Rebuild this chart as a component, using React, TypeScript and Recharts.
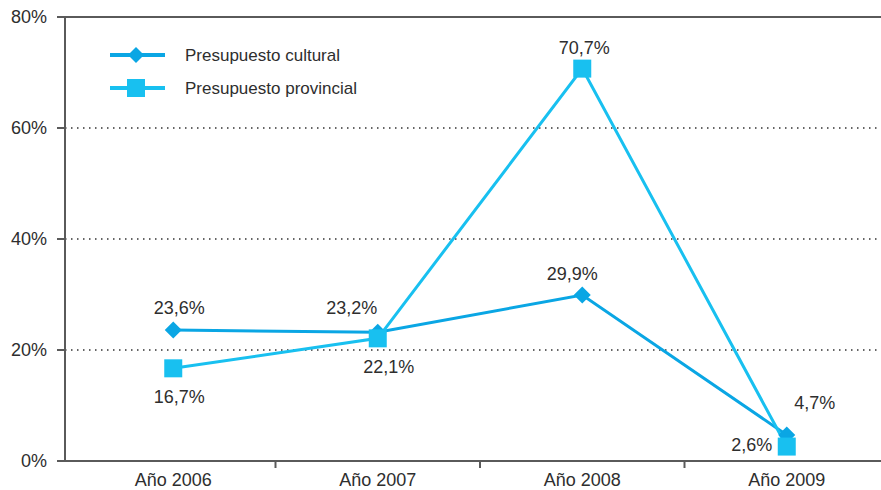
import React from 'react';
import { LineChart, Line, XAxis, YAxis, CartesianGrid, ReferenceLine, LabelList, Legend } from 'recharts';

const categories = ['Año 2006', 'Año 2007', 'Año 2008', 'Año 2009'];
const culturalValues = [23.6, 23.2, 29.9, 4.7];
const provincialValues = [16.7, 22.1, 70.7, 2.6];
const yTicks = [0, 20, 40, 60, 80];
const seriesNames = { cultural: 'Presupuesto cultural', provincial: 'Presupuesto provincial' };

const data = categories.map((c, i) => ({ name: c, cultural: culturalValues[i], provincial: provincialValues[i] }));

const COL_CULT = '#0aa6e4';
const COL_PROV = '#18c0f0';
const TEXT = '#2e2e2e';
const AXIS = '#5a5a5a';
const FONT = "'Liberation Sans', Arial, Helvetica, sans-serif";

// label placement (dx, dy of baseline relative to the point)
const labelOffsets: Record<string, [number, number][]> = {
  cultural: [[6, -16], [-26, -18], [-10, -15], [28, -26]],
  provincial: [[6, 35], [11, 35], [2, -15], [-35, 4]],
};

const fmt = (v: number) => v.toFixed(1).replace('.', ',') + '%';

const makeLabel = (key: string) => (props: any) => {
  const { x, y, value, index } = props;
  const [dx, dy] = labelOffsets[key][index] || [0, -10];
  return (
    <text x={x + dx} y={y + dy} textAnchor="middle" fontSize={18} fill={TEXT} fontFamily={FONT}>
      {fmt(value)}
    </text>
  );
};

const Diamond = (props: any) => {
  const { cx, cy } = props;
  if (cx == null || cy == null) return null;
  const r = 8.5;
  return <path d={`M${cx},${cy - r}L${cx + r},${cy}L${cx},${cy + r}L${cx - r},${cy}Z`} fill={COL_CULT} />;
};

const Square = (props: any) => {
  const { cx, cy } = props;
  if (cx == null || cy == null) return null;
  const s = 9;
  return <rect x={cx - s} y={cy - s} width={2 * s} height={2 * s} fill={COL_PROV} />;
};

const XTick = (props: any) => {
  const { x, y, payload, index } = props;
  const half = payload && typeof payload.offset === 'number' && payload.offset > 0 ? payload.offset : 102;
  return (
    <g>
      <text x={x} y={y + 25} textAnchor="middle" fontSize={18} fill={TEXT} fontFamily={FONT}>
        {payload.value}
      </text>
      {index < categories.length - 1 && (
        <line x1={x + half} x2={x + half} y1={y} y2={y + 7} stroke={AXIS} strokeWidth={2} />
      )}
    </g>
  );
};

const renderLegend = () => (
  <svg width={320} height={70} style={{ display: 'block' }}>
    <line x1={10} x2={65} y1={20} y2={20} stroke={COL_CULT} strokeWidth={4} />
    <path d="M36,12L44,20L36,28L28,20Z" fill={COL_CULT} />
    <text x={85} y={25.5} fontSize={17} fill={TEXT} fontFamily={FONT}>{seriesNames.cultural}</text>
    <line x1={10} x2={65} y1={53} y2={53} stroke={COL_PROV} strokeWidth={4} />
    <rect x={27} y={44} width={18} height={18} fill={COL_PROV} />
    <text x={85} y={59} fontSize={17} fill={TEXT} fontFamily={FONT}>{seriesNames.provincial}</text>
  </svg>
);

export default function App() {
  return (
    <div style={{ position: 'absolute', left: 0, top: 0, width: 881, height: 490, overflow: 'hidden', background: '#fff' }}>
      <LineChart width={890} height={490} data={data} margin={{ top: 17, right: 1, left: 0, bottom: 0 }}>
        <CartesianGrid vertical={false} stroke="#333" strokeDasharray="1.5 4.5" strokeWidth={1.5} />
        <ReferenceLine y={80} stroke={AXIS} strokeWidth={2} />
        <XAxis
          dataKey="name"
          scale="band"
          height={29}
          padding={{ left: 6, right: 0 }}
          tickSize={0}
          tickMargin={0}
          tick={<XTick />}
          axisLine={{ stroke: AXIS, strokeWidth: 2 }}
          interval={0}
        />
        <YAxis
          width={65}
          domain={[0, 80]}
          ticks={yTicks}
          tickFormatter={(v: number) => v + '%'}
          tickSize={8}
          tickMargin={10}
          axisLine={{ stroke: AXIS, strokeWidth: 2 }}
          tickLine={{ stroke: AXIS, strokeWidth: 2 }}
          tick={{ fontSize: 18, fill: TEXT, fontFamily: FONT }}
          allowDataOverflow
        />
        <Legend
          layout="vertical"
          align="center"
          verticalAlign="middle"
          wrapperStyle={{ left: 100, top: 35, width: 320, height: 70 }}
          content={renderLegend}
        />
        <Line
          dataKey="cultural"
          name={seriesNames.cultural}
          stroke={COL_CULT}
          strokeWidth={3}
          dot={<Diamond />}
          activeDot={false}
          isAnimationActive={false}
        >
          <LabelList dataKey="cultural" content={makeLabel('cultural')} />
        </Line>
        <Line
          dataKey="provincial"
          name={seriesNames.provincial}
          stroke={COL_PROV}
          strokeWidth={3}
          dot={<Square />}
          activeDot={false}
          isAnimationActive={false}
        >
          <LabelList dataKey="provincial" content={makeLabel('provincial')} />
        </Line>
      </LineChart>
    </div>
  );
}
